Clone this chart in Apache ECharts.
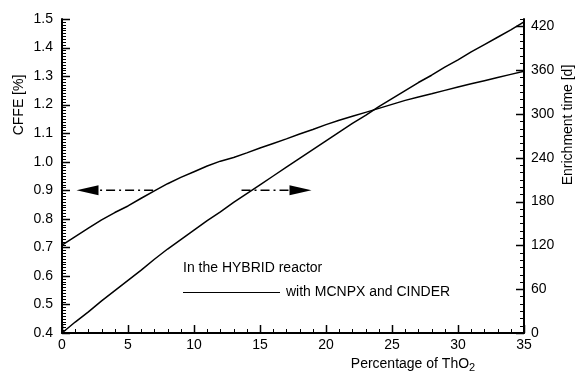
<!DOCTYPE html>
<html>
<head>
<meta charset="utf-8">
<script src="https://cdn.jsdelivr.net/npm/echarts@6/dist/echarts.min.js"></script>
<style>html,body{margin:0;padding:0;background:#fff}#c{width:585px;height:376px}</style>
</head>
<body>
<div id="c"></div>
<script>
// Percentage of ThO2 (x)
const thoPct = [0,1,2,3,4,5,6,7,8,9,10,11,12,13,14,15,16,17,18,19,20,21,22,23,24,25,26,27,28,29,30,31,32,33,34,35];
// CFFE [%] (left axis)
const cffe = [0.708,0.738,0.767,0.796,0.822,0.845,0.872,0.898,0.923,0.945,0.965,0.985,1.002,1.015,1.031,1.048,1.064,1.080,1.097,1.113,1.130,1.145,1.159,1.173,1.187,1.201,1.215,1.227,1.238,1.250,1.262,1.273,1.284,1.295,1.306,1.317];
// Enrichment time [d] (right axis)
const enrichTime = [0,15,29,44,58,72,86,101,115,128,141,154,166,179,191,203,215,227,239,251,263,275,287,298,310,321,332,343,353,364,374,385,395,405,415,426];
// Tick values
const xMajorTicks = [0,5,10,15,20,25,30,35];
const yLeftMajorTicks = [0.4,0.5,0.6,0.7,0.8,0.9,1.0,1.1,1.2,1.3,1.4,1.5];
const yRightMajorTicks = [0,60,120,180,240,300,360,420];
const xMinorStep = 1, yLeftMinorStep = 0.01, yRightMinorStep = 10;
// Annotation arrows at CFFE = 0.9 (tail x, tip x)
const arrowLeft = [6.9, 1.1];
const arrowRight = [13.6, 18.9];
const arrowLevel = 0.9;
// Texts
const yLeftTitle = 'CFFE [%]';
const yRightTitle = 'Enrichment time [d]';
const legendTitle = 'In the HYBRID reactor';
const legendItem = 'with MCNPX and CINDER';

const FONT = '"Liberation Sans", Arial, Helvetica, sans-serif';
const chart = echarts.init(document.getElementById('c'));

function axisLine() { return {show: true, lineStyle: {color: '#000', width: 2}}; }
function label(margin, fmt) {
  const o = {show: true, color: '#000', fontSize: 14, fontFamily: FONT, margin: margin};
  if (fmt) o.formatter = fmt;
  return o;
}

chart.setOption({
  animation: false,
  grid: {left: 62, right: 61, top: 19, bottom: 43},
  xAxis: {
    type: 'value', min: 0, max: 35, interval: 5,
    axisLine: axisLine(), axisTick: {show: false}, minorTick: {show: false},
    splitLine: {show: false}, axisLabel: label(5)
  },
  yAxis: [
    {
      type: 'value', position: 'left', min: 0.4, max: 1.5, interval: 0.1,
      axisLine: axisLine(), axisTick: {show: false}, minorTick: {show: false},
      splitLine: {show: false}, axisLabel: label(9, v => v.toFixed(1))
    },
    {
      type: 'value', position: 'right', min: 0, max: 430, interval: 60,
      axisLine: axisLine(), axisTick: {show: false}, minorTick: {show: false},
      splitLine: {show: false}, axisLabel: label(7, v => (v % 60 === 0 ? String(v) : ''))
    }
  ],
  series: [
    {
      name: 'CFFE', type: 'line', yAxisIndex: 0, showSymbol: false,
      lineStyle: {color: '#000', width: 1.5},
      data: thoPct.map((x, i) => [x, cffe[i]])
    },
    {
      name: 'Enrichment time', type: 'line', yAxisIndex: 1, showSymbol: false,
      lineStyle: {color: '#000', width: 1.5},
      data: thoPct.map((x, i) => [x, enrichTime[i]])
    }
  ]
});

// Pixel conversion through the chart's own scales
function pxL(x, y) { return chart.convertToPixel({xAxisIndex: 0, yAxisIndex: 0}, [x, y]); }
function pxR(x, y) { return chart.convertToPixel({xAxisIndex: 0, yAxisIndex: 1}, [x, y]); }
function crisp(v) { return Math.round(v) + 0.5; }

const tickEls = [];
function tickLine(x1, y1, x2, y2, w) {
  tickEls.push({type: 'line', silent: true, z: 10,
    shape: {x1: x1, y1: y1, x2: x2, y2: y2}, style: {stroke: '#000', lineWidth: w}});
}
const MAJ = 8, MIN = 4;
// x axis ticks (pointing up)
const bottomY = pxL(0, 0.4)[1];
for (let v = 0; v <= 35 + 1e-9; v += xMinorStep) {
  const isMajor = xMajorTicks.indexOf(Math.round(v)) >= 0;
  const x = crisp(pxL(v, 0.4)[0]);
  tickLine(x, bottomY, x, bottomY - (isMajor ? MAJ : MIN), isMajor ? 1.5 : 1);
}
// left axis ticks (pointing right)
const leftX = pxL(0, 0.4)[0];
for (let i = 0; i <= 110; i++) {
  const v = 0.4 + i * yLeftMinorStep;
  const isMajor = i % 10 === 0;
  const y = crisp(pxL(0, v)[1]);
  tickLine(leftX, y, leftX + (isMajor ? MAJ : MIN), y, isMajor ? 1.5 : 1);
}
// right axis ticks (pointing left)
const rightX = pxR(35, 0)[0];
for (let v = 0; v <= 430; v += yRightMinorStep) {
  const isMajor = yRightMajorTicks.indexOf(v) >= 0;
  const y = crisp(pxR(35, v)[1]);
  tickLine(rightX, y, rightX - (isMajor ? MAJ : MIN), y, isMajor ? 1.5 : 1);
}

function arrow(a) {
  const tail = pxL(a[0], arrowLevel), tip = pxL(a[1], arrowLevel);
  const dir = tip[0] > tail[0] ? 1 : -1;
  const baseX = tip[0] - dir * 22;
  return [
    {type: 'line', shape: {x1: tail[0], y1: tip[1], x2: baseX, y2: tip[1]},
      style: {stroke: '#000', lineWidth: 1.5, lineDash: [9, 4, 2, 4]}},
    {type: 'polygon', shape: {points: [[tip[0], tip[1]], [baseX, tip[1] - 5], [baseX, tip[1] + 5]]},
      style: {fill: '#000'}}
  ];
}

chart.setOption({
  graphic: [
    {type: 'text', x: 19, y: 105, rotation: Math.PI / 2,
      style: {text: yLeftTitle, fill: '#000', font: '14px ' + FONT, align: 'center', verticalAlign: 'middle'}},
    {type: 'text', x: 568, y: 125, rotation: Math.PI / 2,
      style: {text: yRightTitle, fill: '#000', font: '14px ' + FONT, align: 'center', verticalAlign: 'middle'}},
    {type: 'text', x: 413, y: 364,
      style: {text: 'Percentage of ThO{sub|2}', fill: '#000', font: '14px ' + FONT, align: 'center', verticalAlign: 'middle',
        rich: {sub: {fontSize: 11, fontFamily: FONT, fill: '#000', padding: [8, 0, 0, 0]}}}},
    {type: 'text', x: 183, y: 268,
      style: {text: legendTitle, fill: '#000', font: '14px ' + FONT, align: 'left', verticalAlign: 'middle'}},
    {type: 'line', shape: {x1: 183, y1: 292.5, x2: 280, y2: 292.5}, style: {stroke: '#000', lineWidth: 1}},
    {type: 'text', x: 286, y: 292,
      style: {text: legendItem, fill: '#000', font: '14px ' + FONT, align: 'left', verticalAlign: 'middle'}}
  ].concat(arrow(arrowLeft), arrow(arrowRight), tickEls)
});
</script>
</body>
</html>
